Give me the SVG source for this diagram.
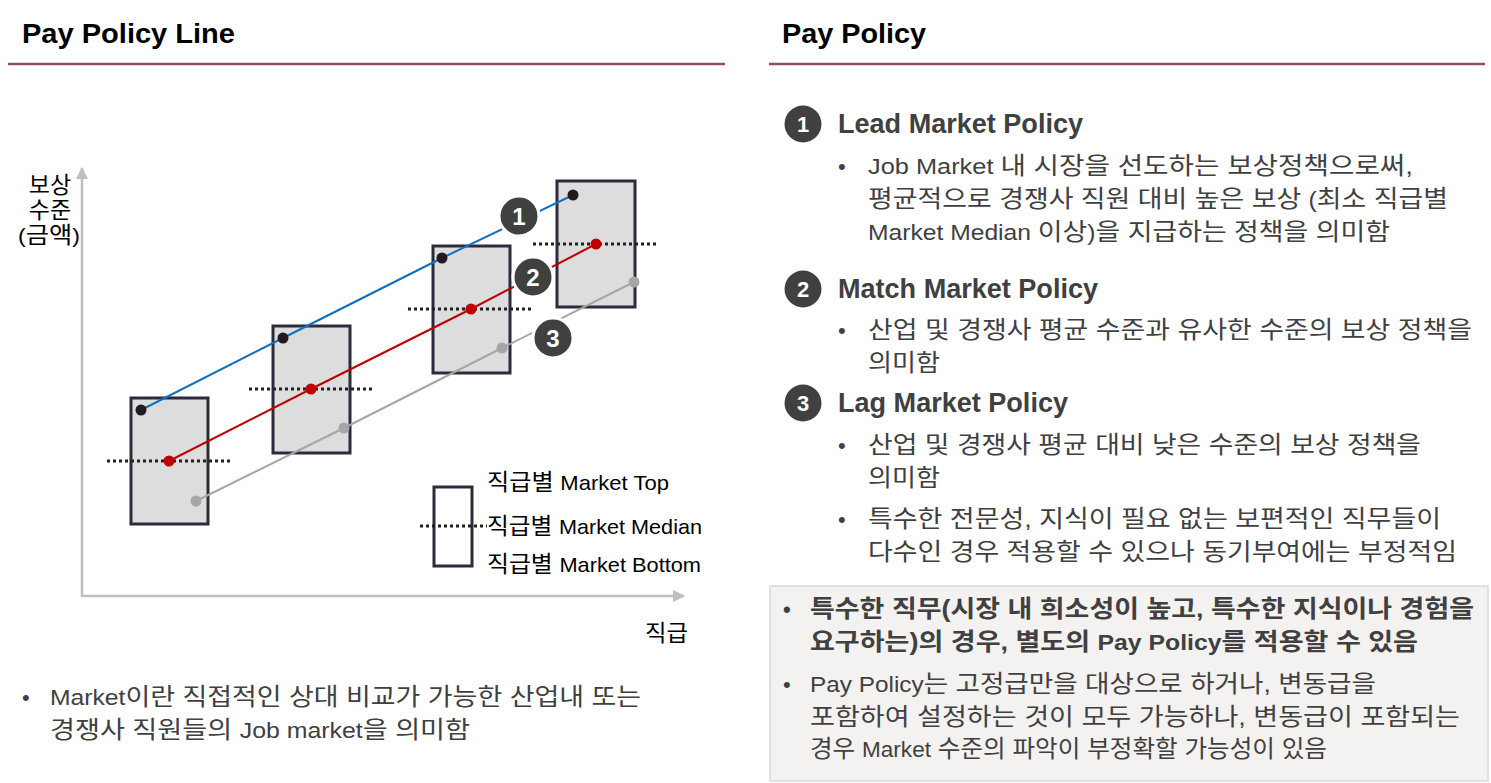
<svg xmlns="http://www.w3.org/2000/svg" width="1491" height="783" viewBox="0 0 1491 783">
<defs>
<style>
text{font-family:"Liberation Sans","Noto Sans CJK KR",sans-serif;}
.title{font-size:28px;font-weight:bold;fill:#000;}
.rule{stroke:#8E4F5E;stroke-width:2.5;}
.axis{stroke:#BFBFBF;stroke-width:2.5;fill:none;}
.box{fill:#DDDDDD;stroke:#2C2B3C;stroke-width:3;}
.med{stroke:#231F20;stroke-width:3;stroke-dasharray:3 3;}
.lbl{font-size:21px;fill:#000;}
.body{font-size:22px;fill:#404040;}
.k{font-size:24px;}
.lk{font-size:23px;}
.head{font-size:27px;font-weight:bold;fill:#404040;}
.badge{fill:#404040;stroke:#fff;stroke-width:3;}
.num{font-size:24px;font-weight:bold;fill:#fff;text-anchor:middle;}
.rnum{font-size:22px;font-weight:bold;fill:#fff;text-anchor:middle;}
</style>
<marker id="arr" viewBox="0 0 10 10" refX="9" refY="5" markerWidth="5" markerHeight="5" orient="auto"><path d="M0,0L10,5L0,10z" fill="#BFBFBF"/></marker>
</defs>
<rect width="1491" height="783" fill="#fff"/>

<g id="left-header">
<text class="title" x="22" y="43" textLength="213" lengthAdjust="spacingAndGlyphs">Pay Policy Line</text>
<line class="rule" x1="8" y1="64" x2="725" y2="64"/>
</g>
<g id="right-header">
<text class="title" x="782" y="43" textLength="144" lengthAdjust="spacingAndGlyphs">Pay Policy</text>
<line class="rule" x1="769" y1="64" x2="1485" y2="64"/>
</g>

<g id="axes">
<line class="axis" x1="82" y1="597" x2="82" y2="168" marker-end="url(#arr)"/>
<line class="axis" x1="82" y1="596" x2="684" y2="596" marker-end="url(#arr)"/>
<text class="lbl lk" x="50" y="193" text-anchor="middle">보상</text>
<text class="lbl lk" x="50" y="218" text-anchor="middle">수준</text>
<text class="lbl" x="49" y="243" text-anchor="middle" textLength="62" lengthAdjust="spacingAndGlyphs">(<tspan class="lk">금액</tspan>)</text>
<text class="lbl lk" x="645" y="641" textLength="43" lengthAdjust="spacingAndGlyphs">직급</text>
</g>

<g id="box1"><rect class="box" x="131" y="398" width="77" height="126"/><line class="med" x1="107" y1="461" x2="233" y2="461"/></g>
<g id="box2"><rect class="box" x="273" y="326" width="77" height="127"/><line class="med" x1="249" y1="389" x2="375" y2="389"/></g>
<g id="box3"><rect class="box" x="433" y="246" width="77" height="127"/><line class="med" x1="408" y1="309" x2="534" y2="309"/></g>
<g id="box4"><rect class="box" x="557" y="181" width="78" height="126"/><line class="med" x1="533" y1="244" x2="659" y2="244"/></g>

<g id="connectors">
<polyline points="141,410 283,338 442,258 573,195" fill="none" stroke="#1070C0" stroke-width="2"/>
<polyline points="169,461 311,389 471,309 596,244" fill="none" stroke="#C00000" stroke-width="2"/>
<polyline points="196,501 344,428 502,348 634,282" fill="none" stroke="#A6A6A6" stroke-width="2"/>
</g>

<g id="dots">
<circle cx="141" cy="410" r="5.5" fill="#231A1F"/>
<circle cx="283" cy="338" r="5.5" fill="#231A1F"/>
<circle cx="442" cy="258" r="5.5" fill="#231A1F"/>
<circle cx="573" cy="195" r="5.5" fill="#231A1F"/>
<circle cx="169" cy="461" r="5.5" fill="#C00000"/>
<circle cx="311" cy="389" r="5.5" fill="#C00000"/>
<circle cx="471" cy="309" r="5.5" fill="#C00000"/>
<circle cx="596" cy="244" r="5.5" fill="#C00000"/>
<circle cx="196" cy="501" r="5.5" fill="#A6A6A6"/>
<circle cx="344" cy="428" r="5.5" fill="#A6A6A6"/>
<circle cx="502" cy="348" r="5.5" fill="#A6A6A6"/>
<circle cx="634" cy="282" r="5.5" fill="#A6A6A6"/>
</g>

<g id="badge1"><circle class="badge" cx="519" cy="216" r="20"/><text class="num" x="519" y="225">1</text></g>
<g id="badge2"><circle class="badge" cx="533" cy="277" r="20"/><text class="num" x="533" y="286">2</text></g>
<g id="badge3"><circle class="badge" cx="553" cy="338" r="20"/><text class="num" x="553" y="347">3</text></g>

<g id="legend">
<rect x="434" y="487" width="38" height="79" fill="none" stroke="#2C2B3C" stroke-width="3"/>
<line class="med" x1="420" y1="526" x2="487" y2="526" stroke-width="2.5" stroke-dasharray="2.5 2"/>
<text class="lbl" x="487" y="490" textLength="182" lengthAdjust="spacingAndGlyphs"><tspan class="lk">직급별 </tspan>Market Top</text>
<text class="lbl" x="487" y="534" textLength="215" lengthAdjust="spacingAndGlyphs"><tspan class="lk">직급별 </tspan>Market Median</text>
<text class="lbl" x="487" y="572" textLength="214" lengthAdjust="spacingAndGlyphs"><tspan class="lk">직급별 </tspan>Market Bottom</text>
</g>

<g id="note">
<text class="body" x="22" y="705">•</text>
<text class="body" x="50" y="705" textLength="591" lengthAdjust="spacingAndGlyphs">Market<tspan class="k">이란 직접적인 상대 비교가 가능한 산업내 또는</tspan></text>
<text class="body" x="50" y="738" textLength="420" lengthAdjust="spacingAndGlyphs"><tspan class="k">경쟁사 직원들의 </tspan>Job market<tspan class="k">을 의미함</tspan></text>
</g>

<g id="policy1">
<circle cx="803" cy="124" r="18.5" fill="#404040"/><text class="rnum" x="803" y="132">1</text>
<text class="head" x="838" y="133" textLength="245" lengthAdjust="spacingAndGlyphs">Lead Market Policy</text>
<text class="body" x="838" y="174">•</text>
<text class="body" x="868" y="174" textLength="545" lengthAdjust="spacingAndGlyphs">Job Market <tspan class="k">내 시장을 선도하는 보상정책으로써,</tspan></text>
<text class="body" x="868" y="207" textLength="580" lengthAdjust="spacingAndGlyphs"><tspan class="k">평균적으로 경쟁사 직원 대비 높은 보상 </tspan>(<tspan class="k">최소 직급별</tspan></text>
<text class="body" x="868" y="240" textLength="522" lengthAdjust="spacingAndGlyphs">Market Median <tspan class="k">이상</tspan>)<tspan class="k">을 지급하는 정책을 의미함</tspan></text>
</g>

<g id="policy2">
<circle cx="803" cy="289" r="18.5" fill="#404040"/><text class="rnum" x="803" y="297">2</text>
<text class="head" x="838" y="298" textLength="260" lengthAdjust="spacingAndGlyphs">Match Market Policy</text>
<text class="body" x="838" y="338">•</text>
<text class="body k" x="868" y="338" textLength="604" lengthAdjust="spacingAndGlyphs">산업 및 경쟁사 평균 수준과 유사한 수준의 보상 정책을</text>
<text class="body k" x="868" y="371" textLength="72" lengthAdjust="spacingAndGlyphs">의미함</text>
</g>

<g id="policy3">
<circle cx="803" cy="403" r="18.5" fill="#404040"/><text class="rnum" x="803" y="411">3</text>
<text class="head" x="838" y="412" textLength="230" lengthAdjust="spacingAndGlyphs">Lag Market Policy</text>
<text class="body" x="838" y="453">•</text>
<text class="body k" x="868" y="453" textLength="553" lengthAdjust="spacingAndGlyphs">산업 및 경쟁사 평균 대비 낮은 수준의 보상 정책을</text>
<text class="body k" x="868" y="486" textLength="72" lengthAdjust="spacingAndGlyphs">의미함</text>
<text class="body" x="838" y="527">•</text>
<text class="body k" x="868" y="527" textLength="573" lengthAdjust="spacingAndGlyphs">특수한 전문성, 지식이 필요 없는 보편적인 직무들이</text>
<text class="body k" x="868" y="560" textLength="589" lengthAdjust="spacingAndGlyphs">다수인 경우 적용할 수 있으나 동기부여에는 부정적임</text>
</g>

<g id="remark">
<rect x="770" y="586" width="718" height="195" fill="#F4F1F1" stroke="#D9D9D9" stroke-width="1.5"/>
<text class="body" x="783" y="617" font-weight="bold">•</text>
<text class="body k" x="810" y="617" font-weight="bold" textLength="664" lengthAdjust="spacingAndGlyphs">특수한 직무(시장 내 희소성이 높고, 특수한 지식이나 경험을</text>
<text class="body" x="810" y="650" font-weight="bold" textLength="608" lengthAdjust="spacingAndGlyphs"><tspan class="k">요구하는)의 경우, 별도의 </tspan>Pay Policy<tspan class="k">를 적용할 수 있음</tspan></text>
<text class="body" x="783" y="692">•</text>
<text class="body" x="810" y="692" textLength="566" lengthAdjust="spacingAndGlyphs">Pay Policy<tspan class="k">는 고정급만을 대상으로 하거나, 변동급을</tspan></text>
<text class="body k" x="810" y="725" textLength="650" lengthAdjust="spacingAndGlyphs">포함하여 설정하는 것이 모두 가능하나, 변동급이 포함되는</text>
<text class="body" x="810" y="757" textLength="517" lengthAdjust="spacingAndGlyphs"><tspan class="k">경우 </tspan>Market<tspan class="k"> 수준의 파악이 부정확할 가능성이 있음</tspan></text>
</g>
</svg>
